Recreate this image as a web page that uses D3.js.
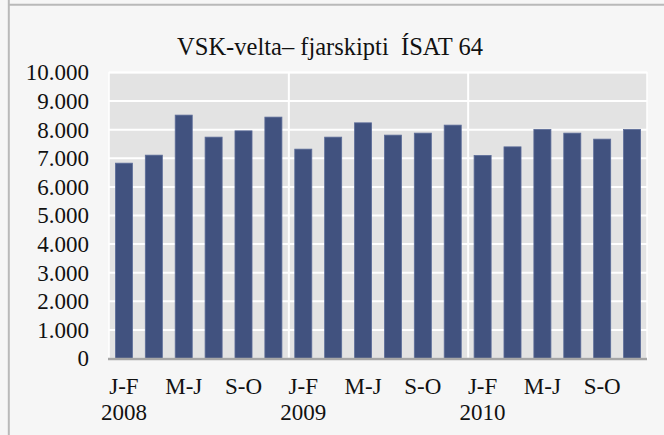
<!DOCTYPE html>
<html>
<head>
<meta charset="utf-8">
<script src="https://cdn.jsdelivr.net/npm/d3@7"></script>
</head>
<body style="margin:0;padding:0;background:#f6f6f6">
<svg id="chart" width="664" height="435" style="display:block"></svg>
<script>
const title = "VSK-velta\u2013 fjarskipti  \u00CDSAT 64";
const years = ["2008", "2009", "2010"];
const periods = ["J-F", "M-A", "M-J", "J-\u00C1", "S-O", "N-D"];
const shownPeriods = ["J-F", "M-J", "S-O"];
const values2008 = [6830, 7110, 8510, 7740, 7960, 8440];
const values2009 = [7320, 7740, 8240, 7810, 7880, 8160];
const values2010 = [7100, 7400, 8010, 7880, 7670, 8010];
const yTicks = [0, 1000, 2000, 3000, 4000, 5000, 6000, 7000, 8000, 9000, 10000];

const seriesByYear = [values2008, values2009, values2010];
const data = [];
years.forEach((yr, yi) => {
  periods.forEach((p, pi) => {
    data.push({ key: yr + "-" + p, year: yr, period: p, pi: pi, value: seriesByYear[yi][pi] });
  });
});

const FONT = "Liberation Serif";
const FS = 23;
const svg = d3.select("#chart");
const W = 664, H = 435;
const plot = { left: 109, right: 647, top: 72.5, bottom: 358.5 };

svg.append("rect").attr("x", 0).attr("y", 0).attr("width", W).attr("height", H).attr("fill", "#f6f6f6");
// outer borders
svg.append("line").attr("x1", 8).attr("x2", W).attr("y1", 4.8).attr("y2", 4.8)
  .attr("stroke", "#b9b9b9").attr("stroke-width", 2);
svg.append("line").attr("x1", 8.8).attr("x2", 8.8).attr("y1", 0).attr("y2", H)
  .attr("stroke", "#b9b9b9").attr("stroke-width", 2);

const x = d3.scaleBand()
  .domain(data.map(d => d.key))
  .range([plot.left, plot.right])
  .paddingInner(0.43)
  .paddingOuter(0.215);

const y = d3.scaleLinear().domain([0, 10000]).range([plot.bottom, plot.top]);

// plot background with white frame
svg.append("rect")
  .attr("x", plot.left).attr("y", plot.top)
  .attr("width", plot.right - plot.left).attr("height", plot.bottom - plot.top)
  .attr("fill", "#e3e3e3").attr("stroke", "#ffffff").attr("stroke-width", 1.5);

// gridlines
svg.append("g").selectAll("line").data(yTicks.filter(t => t > 0)).join("line")
  .attr("x1", plot.left).attr("x2", plot.right)
  .attr("y1", d => y(d)).attr("y2", d => y(d))
  .attr("stroke", "#ffffff").attr("stroke-width", 2);

// year separators
const step = x.step();
svg.append("g").selectAll("line").data([1, 2]).join("line")
  .attr("x1", d => plot.left + d * periods.length * step + 0.5)
  .attr("x2", d => plot.left + d * periods.length * step + 0.5)
  .attr("y1", plot.top).attr("y2", plot.bottom)
  .attr("stroke", "#ffffff").attr("stroke-width", 2);

// bars
svg.append("g").selectAll("rect").data(data).join("rect")
  .attr("x", d => x(d.key))
  .attr("y", d => y(d.value))
  .attr("width", x.bandwidth())
  .attr("height", d => y(0) - y(d.value))
  .attr("fill", "#41527f")
  .attr("stroke", "#5d6d99")
  .attr("stroke-width", 0.8);

// x axis line
svg.append("line").attr("x1", plot.left - 1).attr("x2", plot.right)
  .attr("y1", plot.bottom + 0.5).attr("y2", plot.bottom + 0.5)
  .attr("stroke", "#a6a6a6").attr("stroke-width", 2.5);

// y axis
const loc = d3.formatLocale({ decimal: ",", thousands: ".", grouping: [3], currency: ["", ""] });
const fmt = loc.format(",");
const yAxis = d3.axisLeft(y).tickValues(yTicks).tickFormat(fmt).tickSize(0).tickPadding(20);
const yg = svg.append("g").attr("transform", `translate(${plot.left},0)`).call(yAxis);
yg.attr("font-family", FONT).attr("font-size", FS);
yg.select(".domain").remove();
yg.selectAll("text").attr("font-family", FONT).attr("font-size", FS).attr("fill", "#111").attr("dy", "0.32em");

// x labels
const xLabels = data.filter(d => shownPeriods.includes(d.period));
const xg = svg.append("g").attr("font-family", FONT).attr("font-size", FS).attr("fill", "#111");
xg.selectAll("text.per").data(xLabels).join("text")
  .attr("class", "per")
  .attr("font-family", FONT).attr("font-size", FS)
  .attr("x", d => x(d.key) + x.bandwidth() / 2)
  .attr("y", 394)
  .attr("text-anchor", "middle")
  .text(d => d.period);
xg.selectAll("text.yr").data(xLabels.filter(d => d.pi === 0)).join("text")
  .attr("class", "yr")
  .attr("font-family", FONT).attr("font-size", FS)
  .attr("x", d => x(d.key) + x.bandwidth() / 2)
  .attr("y", 420)
  .attr("text-anchor", "middle")
  .text(d => d.year);

// title
svg.append("text")
  .attr("x", 330).attr("y", 55)
  .attr("text-anchor", "middle")
  .attr("font-family", FONT).attr("font-size", 24.5).attr("fill", "#111")
  .attr("xml:space", "preserve")
  .style("white-space", "pre")
  .text(title);
</script>
</body>
</html>
